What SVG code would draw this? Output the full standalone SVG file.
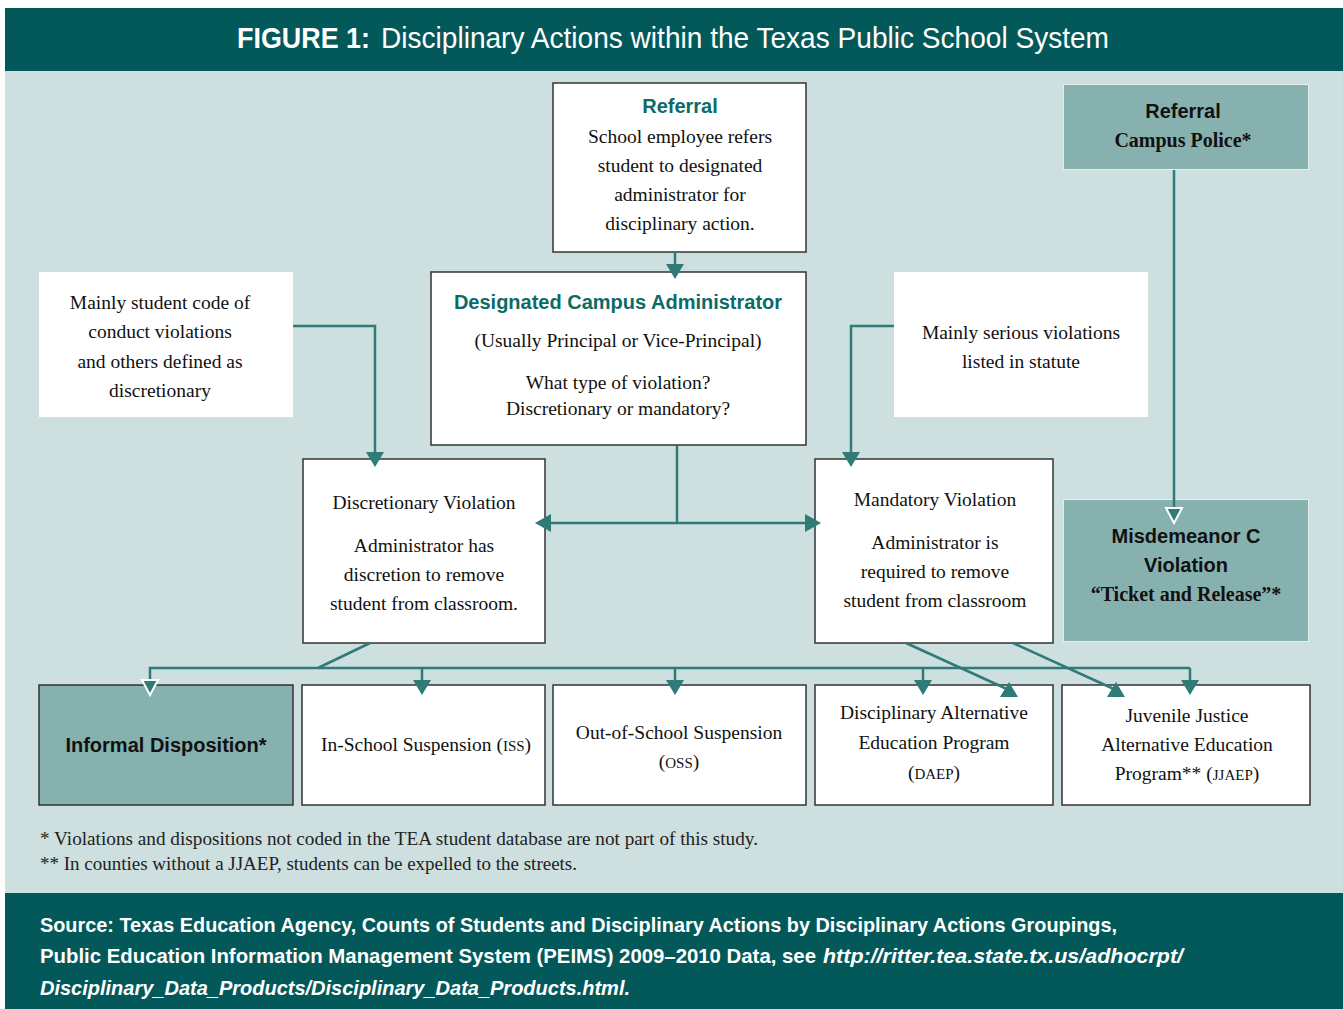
<svg xmlns="http://www.w3.org/2000/svg" width="1343" height="1009" viewBox="0 0 1343 1009">
<style>
.band{fill:#03595a}
.bg{fill:#cddfdf}
.wb{fill:#ffffff;stroke:#333333;stroke-width:1.5}
.wn{fill:#ffffff}
.tb{fill:#87b1af;stroke:#e4eeee;stroke-width:1}
.tbd{fill:#87b1af;stroke:#333333;stroke-width:1.5}
.ser{font-family:"Liberation Serif","Times New Roman",serif;font-size:19.5px;fill:#111111;text-anchor:middle}
.serb{font-family:"Liberation Serif","Times New Roman",serif;font-size:20px;font-weight:bold;fill:#111111;text-anchor:middle}
.hd{font-family:"Liberation Sans",Arial,sans-serif;font-size:20px;font-weight:bold;fill:#0d6b66;text-anchor:middle}
.hdk{font-family:"Liberation Sans",Arial,sans-serif;font-size:20px;font-weight:bold;fill:#111111;text-anchor:middle}
.fn{font-family:"Liberation Serif","Times New Roman",serif;font-size:18px;fill:#222222}
.ft{font-family:"Liberation Sans",Arial,sans-serif;font-size:21px;font-weight:bold;fill:#ffffff}
.ttl{font-family:"Liberation Sans",Arial,sans-serif;font-size:30px;fill:#ffffff}
.sc{font-size:15px}
.cn{fill:none;stroke:#2f7b77;stroke-width:2.5}
.ah{fill:#2f7b77}
.ao{fill:#2f7b77;stroke:#ffffff;stroke-width:2;stroke-linejoin:miter}
</style>
<rect x="0" y="0" width="1343" height="1009" fill="#ffffff"/>
<rect class="bg" x="5" y="71" width="1338" height="823"/>
<rect class="band" x="5" y="8" width="1338" height="63"/>
<rect class="band" x="5" y="893" width="1338" height="116"/>
<text class="ttl" x="237" y="48" font-weight="bold" textLength="133" lengthAdjust="spacingAndGlyphs">FIGURE 1:</text>
<text class="ttl" x="381" y="48" textLength="728" lengthAdjust="spacingAndGlyphs">Disciplinary Actions within the Texas Public School System</text>

<g id="referral">
<rect class="wb" x="553" y="83" width="253" height="169"/>
<text class="hd" x="680" y="113">Referral</text>
<text class="ser" x="680" y="143">School employee refers</text>
<text class="ser" x="680" y="172">student to designated</text>
<text class="ser" x="680" y="201">administrator for</text>
<text class="ser" x="680" y="230">disciplinary action.</text>
</g>

<g id="admin">
<rect class="wb" x="431" y="272" width="375" height="173"/>
<text class="hd" x="618" y="309">Designated Campus Administrator</text>
<text class="ser" x="618" y="347">(Usually Principal or Vice-Principal)</text>
<text class="ser" x="618" y="389">What type of violation?</text>
<text class="ser" x="618" y="415">Discretionary or mandatory?</text>
</g>

<g id="note-left">
<rect class="wn" x="39" y="272" width="254" height="145"/>
<text class="ser" x="160" y="309">Mainly student code of</text>
<text class="ser" x="160" y="338">conduct violations</text>
<text class="ser" x="160" y="368">and others defined as</text>
<text class="ser" x="160" y="397">discretionary</text>
</g>

<g id="note-right">
<rect class="wn" x="894" y="272" width="254" height="145"/>
<text class="ser" x="1021" y="339">Mainly serious violations</text>
<text class="ser" x="1021" y="368">listed in statute</text>
</g>

<g id="police">
<rect class="tb" x="1063.5" y="84.5" width="245" height="85"/>
<text class="hdk" x="1183" y="118">Referral</text>
<text class="serb" x="1183" y="147">Campus Police*</text>
</g>

<g id="discretionary">
<rect class="wb" x="303" y="459" width="242" height="184"/>
<text class="ser" x="424" y="509">Discretionary Violation</text>
<text class="ser" x="424" y="552">Administrator has</text>
<text class="ser" x="424" y="581">discretion to remove</text>
<text class="ser" x="424" y="610">student from classroom.</text>
</g>

<g id="mandatory">
<rect class="wb" x="815" y="459" width="238" height="184"/>
<text class="ser" x="935" y="506">Mandatory Violation</text>
<text class="ser" x="935" y="549">Administrator is</text>
<text class="ser" x="935" y="578">required to remove</text>
<text class="ser" x="935" y="607">student from classroom</text>
</g>

<g id="misdemeanor">
<rect class="tb" x="1063.5" y="499.5" width="245" height="142"/>
<text class="hdk" x="1186" y="543">Misdemeanor C</text>
<text class="hdk" x="1186" y="572">Violation</text>
<text class="serb" x="1186" y="601">“Ticket and Release”*</text>
</g>

<g id="informal">
<rect class="tbd" x="39" y="685" width="254" height="120"/>
<text class="hdk" x="166" y="752">Informal Disposition*</text>
</g>

<g id="iss">
<rect class="wb" x="302" y="685" width="243" height="120"/>
<text class="ser" x="426" y="751">In-School Suspension (<tspan class="sc">ISS</tspan>)</text>
</g>

<g id="oss">
<rect class="wb" x="553" y="685" width="253" height="120"/>
<text class="ser" x="679" y="739">Out-of-School Suspension</text>
<text class="ser" x="679" y="768">(<tspan class="sc">OSS</tspan>)</text>
</g>

<g id="daep">
<rect class="wb" x="815" y="685" width="238" height="120"/>
<text class="ser" x="934" y="719">Disciplinary Alternative</text>
<text class="ser" x="934" y="749">Education Program</text>
<text class="ser" x="934" y="779">(<tspan class="sc">DAEP</tspan>)</text>
</g>

<g id="jjaep">
<rect class="wb" x="1062" y="685" width="248" height="120"/>
<text class="ser" x="1187" y="722">Juvenile Justice</text>
<text class="ser" x="1187" y="751">Alternative Education</text>
<text class="ser" x="1187" y="780">Program** (<tspan class="sc">JJAEP</tspan>)</text>
</g>

<g id="connectors">
<path class="cn" d="M675,252 V266"/>
<polygon class="ah" points="666,264 684,264 675,279"/>
<path class="cn" d="M293,326 H375 V455"/>
<polygon class="ah" points="366,452 384,452 375,467"/>
<path class="cn" d="M894,326 H851 V455"/>
<polygon class="ah" points="842,452 860,452 851,467"/>
<path class="cn" d="M677,446 V523"/>
<path class="cn" d="M548,523 H808"/>
<polygon class="ah" points="551,514 551,532 535,523"/>
<polygon class="ah" points="805,514 805,532 821,523"/>
<path class="cn" d="M1174,170 V510" stroke-width="2"/>
<polygon class="ao" points="1166,508 1182,508 1174,523"/>
<path class="cn" d="M370,643 L318,668"/>
<path class="cn" d="M150,682 V668 H1190"/>
<polygon class="ao" points="142,680 158,680 150,695"/>
<path class="cn" d="M422,668 V682"/>
<polygon class="ah" points="413,680 431,680 422,695"/>
<path class="cn" d="M675,668 V682"/>
<polygon class="ah" points="666,680 684,680 675,695"/>
<path class="cn" d="M923,668 V682"/>
<polygon class="ah" points="914,680 932,680 923,695"/>
<path class="cn" d="M1190,668 V682"/>
<polygon class="ah" points="1181,680 1199,680 1190,695"/>
<path class="cn" d="M906,643 L1009,690"/>
<path class="cn" d="M1013,643 L1116,690"/>
<polygon class="ah" points="1009,682 1000,697 1018,697"/>
<polygon class="ah" points="1116,682 1107,697 1125,697"/>
</g>

<text class="fn" x="40" y="845" textLength="718" lengthAdjust="spacingAndGlyphs">* Violations and dispositions not coded in the TEA student database are not part of this study.</text>
<text class="fn" x="40" y="870" textLength="537" lengthAdjust="spacingAndGlyphs">** In counties without a JJAEP, students can be expelled to the streets.</text>

<text class="ft" x="40" y="932" textLength="1077" lengthAdjust="spacingAndGlyphs">Source: Texas Education Agency, Counts of Students and Disciplinary Actions by Disciplinary Actions Groupings,</text>
<text class="ft" x="40" y="963" textLength="776" lengthAdjust="spacingAndGlyphs">Public Education Information Management System (PEIMS) 2009–2010 Data, see</text>
<text class="ft" x="823" y="963" font-style="italic" textLength="360" lengthAdjust="spacingAndGlyphs">http://ritter.tea.state.tx.us/adhocrpt/</text>
<text class="ft" x="40" y="995" font-style="italic" textLength="590" lengthAdjust="spacingAndGlyphs">Disciplinary_Data_Products/Disciplinary_Data_Products.html.</text>
</svg>
